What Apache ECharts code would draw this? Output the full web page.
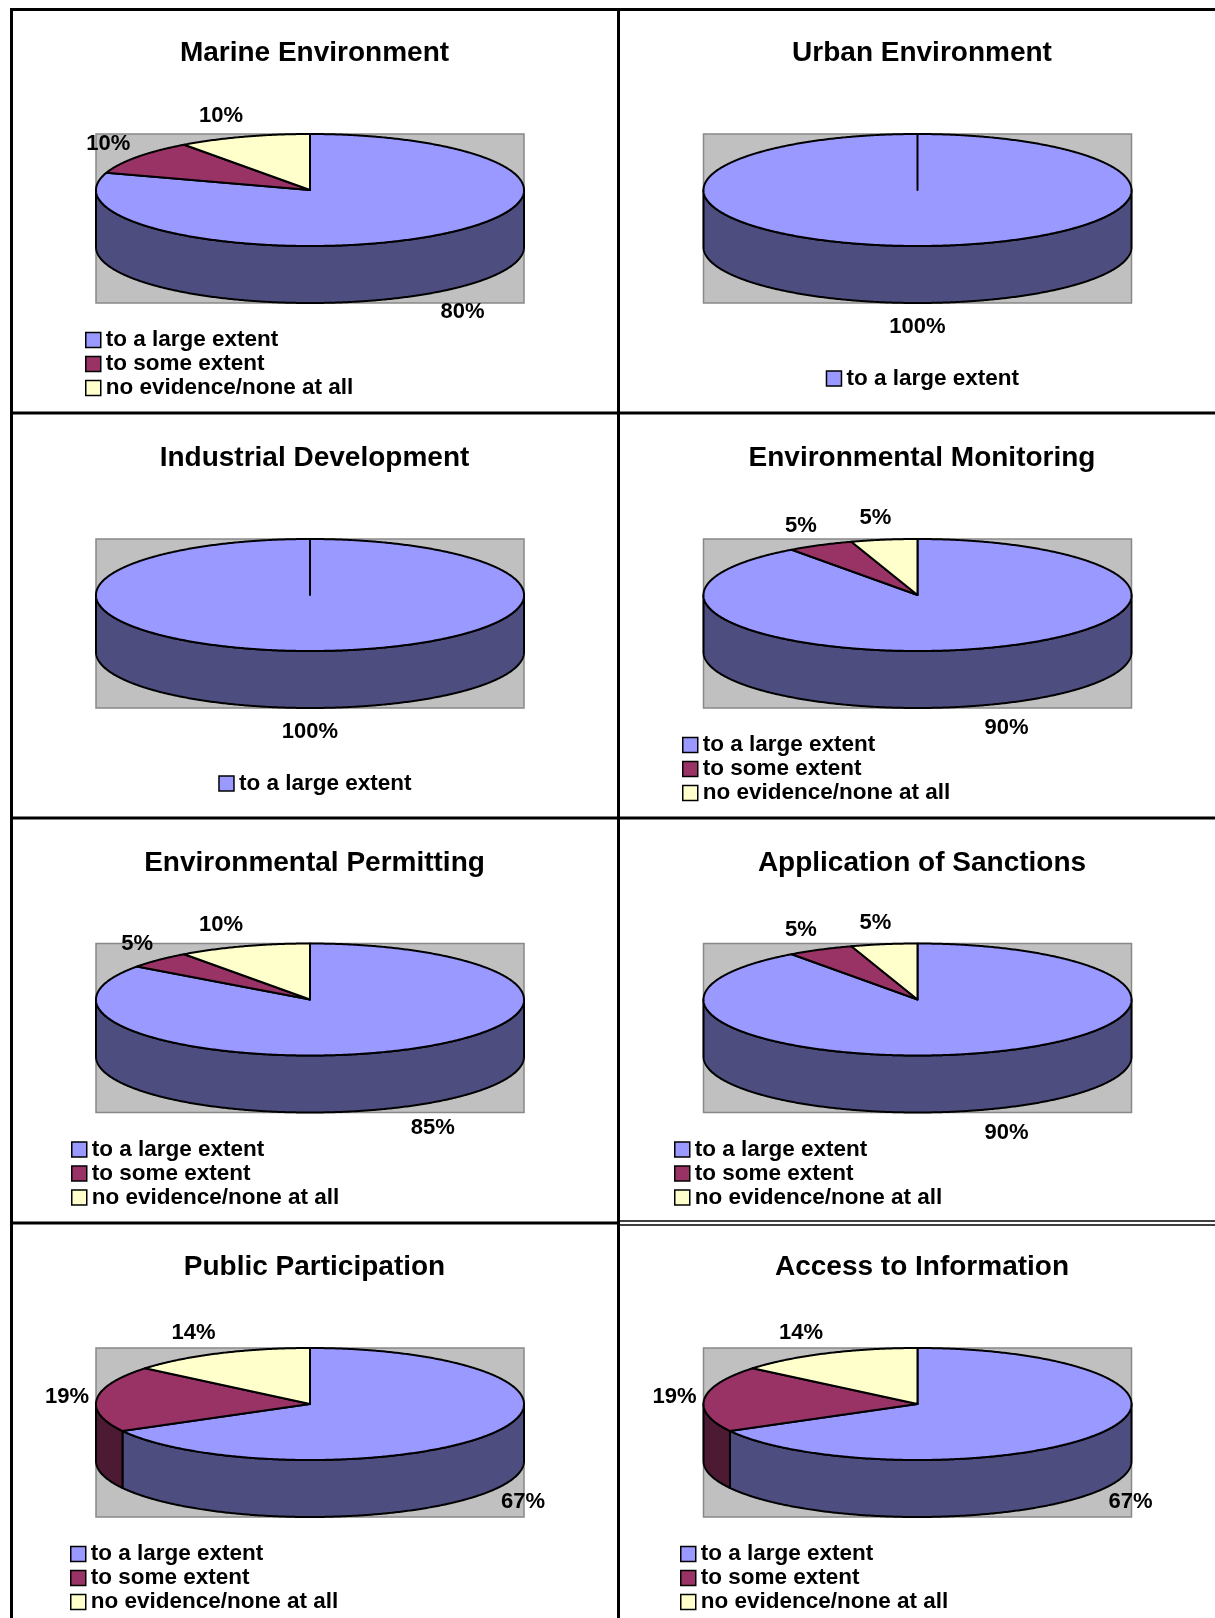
<!DOCTYPE html>
<html>
<head>
<meta charset="utf-8">
<script src="https://cdn.jsdelivr.net/npm/echarts@6/dist/echarts.min.js"></script>
<style>
html,body{margin:0;padding:0;background:#ffffff;}
#chart{width:1215px;height:1618px;}
</style>
</head>
<body>
<div id="chart"></div>
<script>
// ---------------- DATA ----------------
const chartTitles = [
  'Marine Environment', 'Urban Environment',
  'Industrial Development', 'Environmental Monitoring',
  'Environmental Permitting', 'Application of Sanctions',
  'Public Participation', 'Access to Information'
];
const categories = ['to a large extent', 'to some extent', 'no evidence/none at all'];
const largeExtent = [80, 100, 100, 90, 85, 90, 67, 67];
const someExtent  = [10, null, null, 5, 5, 5, 19, 19];
const noEvidence  = [10, null, null, 5, 10, 5, 14, 14];

// ---------------- STYLE / LAYOUT ----------------
const topColors  = ['#9999FF', '#993366', '#FFFFCC'];
const sideColors = ['#4D4D80', '#4D1A33', '#808066'];
const FONT = '"Liberation Sans", Arial, Helvetica, sans-serif';
const colCenter = [314.5, 922];
const rowCy = [190, 595, 999.5, 1404];
const legendLeft = [85, null, null, 682, 71, 674, 70, 680];
const RX = 214, RY = 56, DEPTH = 57;

const measureCtx = document.createElement('canvas').getContext('2d');
function textWidth(t, font) { measureCtx.font = font; return measureCtx.measureText(t).width; }

function ellPt(cx, cy, deg) {
  const r = deg * Math.PI / 180;
  return [cx + RX * Math.sin(r), cy - RY * Math.cos(r)];
}
function arcPts(cx, cy, a0, a1) {
  const pts = [];
  const n = Math.max(2, Math.ceil(Math.abs(a1 - a0) / 0.5));
  for (let j = 0; j <= n; j++) pts.push(ellPt(cx, cy, a0 + (a1 - a0) * j / n));
  return pts;
}

const seriesValues = [largeExtent, someExtent, noEvidence];
const LABEL_FONT = 'bold 22px ' + FONT;
const LEGEND_FONT_SIZE = 22.5;

const titles = [], legends = [], series = [];

chartTitles.forEach(function (name, i) {
  const col = i % 2, row = Math.floor(i / 2);
  const cx = colCenter[col] - 4.5;
  const cy = rowCy[row];
  const vals = seriesValues.map(function (arr) { return arr[i]; });
  const present = [];
  vals.forEach(function (v, k) { if (v !== null && v !== undefined) present.push(k); });
  const total = present.reduce(function (s, k) { return s + vals[k]; }, 0);

  titles.push({
    text: name,
    left: colCenter[col],
    top: cy - 136.5,
    textAlign: 'center',
    textVerticalAlign: 'middle',
    padding: 0,
    textStyle: { fontSize: 28, fontWeight: 'bold', color: '#000', fontFamily: FONT }
  });

  const legendNames = present.map(function (k) { return categories[k]; });
  let lLeft, lTop;
  if (present.length === 1) {
    const w = 15 + 5 + textWidth(legendNames[0], 'bold ' + LEGEND_FONT_SIZE + 'px ' + FONT);
    lLeft = colCenter[col] - w / 2;
    lTop = cy + 176.5;
  } else {
    lLeft = legendLeft[i];
    lTop = cy + 138;
  }
  legends.push({
    data: legendNames,
    orient: 'vertical',
    left: lLeft,
    top: lTop,
    padding: 0,
    itemGap: 0,
    itemWidth: 15,
    itemHeight: 15,
    icon: 'rect',
    selectedMode: false,
    itemStyle: { borderColor: '#000', borderWidth: 1.5 },
    textStyle: { fontSize: LEGEND_FONT_SIZE, fontWeight: 'bold', color: '#000', fontFamily: FONT, lineHeight: 24, padding: [0, 0, 0, 0] }
  });

  present.forEach(function (k, idx) {
    const before = present.slice(0, idx).reduce(function (s, kk) { return s + vals[kk]; }, 0);
    series.push({
      type: 'custom',
      name: categories[k],
      coordinateSystem: 'none',
      itemStyle: { color: topColors[k] },
      silent: true,
      data: [[vals[k]]],
      renderItem: function (params, api) {
        const v = api.value(0);
        const a0 = before / total * 360;
        const a1 = (before + v) / total * 360;
        const children = [];
        if (idx === 0) {
          children.push({
            type: 'rect',
            shape: { x: cx - RX, y: cy - RY, width: 2 * RX, height: 2 * RY + DEPTH },
            style: { fill: '#C0C0C0', stroke: '#888888', lineWidth: 1.5 }
          });
        }
        const s0 = Math.max(a0, 90), s1 = Math.min(a1, 270);
        if (s1 > s0) {
          const topArc = arcPts(cx, cy, s0, s1);
          const botArc = arcPts(cx, cy + DEPTH, s1, s0);
          children.push({
            type: 'polygon',
            shape: { points: topArc.concat(botArc) },
            style: { fill: sideColors[k], stroke: '#000', lineWidth: 2, lineJoin: 'round' }
          });
        }
        children.push({
          type: 'polygon',
          shape: { points: [[cx, cy]].concat(arcPts(cx, cy, a0, a1)) },
          style: { fill: topColors[k], stroke: '#000', lineWidth: 2, lineJoin: 'round' }
        });
        // data label, placed outside the slice at its mid angle
        const mid = (a0 + a1) / 2;
        const r = mid * Math.PI / 180;
        const s = Math.sin(r), nc = -Math.cos(r);
        const base = ellPt(cx, nc > 0 ? cy + DEPTH : cy, mid);
        const txt = v + '%';
        const w = textWidth(txt, LABEL_FONT);
        const sg = s > 0.001 ? 1 : (s < -0.001 ? -1 : 0);
        children.push({
          type: 'text',
          x: base[0] + s * 8 + sg * (w / 2) * Math.min(1, 3 * Math.abs(s)),
          y: base[1] + nc * (nc > 0 ? 24 : 22),
          style: { text: txt, font: LABEL_FONT, fill: '#000', align: 'center', verticalAlign: 'middle' }
        });
        return { type: 'group', children: children };
      }
    });
  });
});

// table borders
const W = 1215, H = 1618;
const lineStyle = { stroke: '#000', lineWidth: 3 };
const thin = { stroke: '#000', lineWidth: 1.3 };
const graphics = [
  { type: 'line', shape: { x1: 10, y1: 9.5, x2: W, y2: 9.5 }, style: lineStyle },
  { type: 'line', shape: { x1: 11.5, y1: 8, x2: 11.5, y2: H }, style: lineStyle },
  { type: 'line', shape: { x1: 618.5, y1: 8, x2: 618.5, y2: H }, style: lineStyle },
  { type: 'line', shape: { x1: 10, y1: 413, x2: W, y2: 413 }, style: lineStyle },
  { type: 'line', shape: { x1: 10, y1: 818, x2: W, y2: 818 }, style: lineStyle },
  { type: 'line', shape: { x1: 10, y1: 1223, x2: 618, y2: 1223 }, style: lineStyle },
  { type: 'line', shape: { x1: 618, y1: 1221, x2: W, y2: 1221 }, style: thin },
  { type: 'line', shape: { x1: 618, y1: 1225, x2: W, y2: 1225 }, style: thin }
];

const chart = echarts.init(document.getElementById('chart'), null, { renderer: 'canvas' });
chart.setOption({
  animation: false,
  backgroundColor: '#ffffff',
  title: titles,
  legend: legends,
  graphic: graphics,
  series: series
});
</script>
</body>
</html>
